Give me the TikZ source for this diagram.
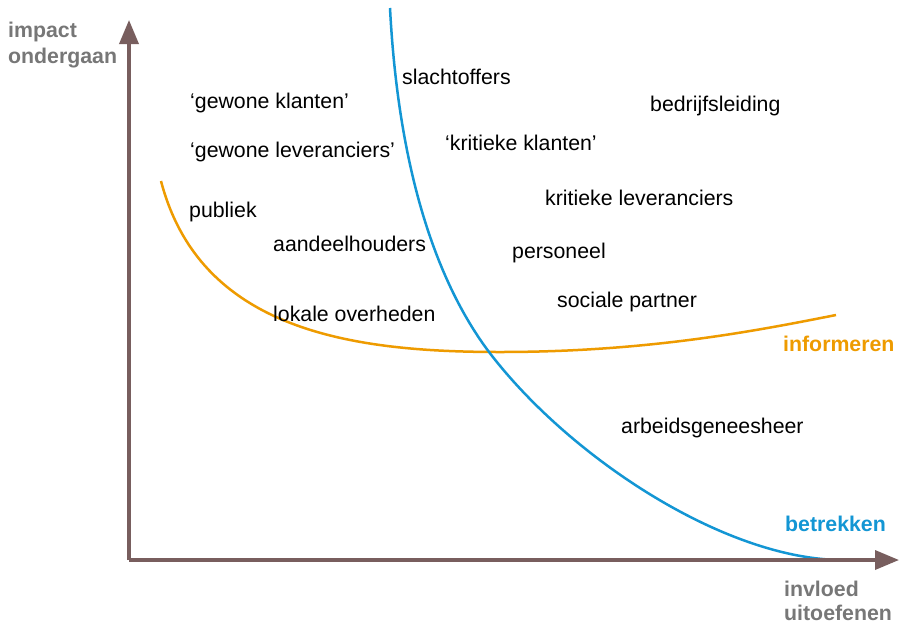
\documentclass[tikz,border=0pt]{standalone}
\usepackage{fontspec}
\setmainfont{Liberation Sans}
\usetikzlibrary{arrows.meta}
\definecolor{axisbrown}{HTML}{785E5E}
\definecolor{labelgray}{HTML}{777777}
\definecolor{infoorange}{HTML}{EE9B00}
\definecolor{involveblue}{HTML}{1396D4}
\begin{document}
\begin{tikzpicture}[x=1pt,y=-1pt,
  axisline/.style={draw=axisbrown,line width=3.5pt,-{Triangle[length=24pt,width=19pt]}},
  curve/.style={line width=2.5pt},
  party/.style={anchor=base west,inner sep=0pt,font=\fontsize{21.3}{25}\selectfont},
  axislabel/.style={anchor=base west,inner sep=0pt,text=labelgray,font=\fontsize{21.3}{25}\selectfont\bfseries,align=left},
  curvelabel/.style={anchor=base west,inner sep=0pt,font=\fontsize{21.3}{25}\selectfont\bfseries}]
\useasboundingbox (0,0) rectangle (901,624);
\fill[white] (0,0) rectangle (901,624);

% information curve
\draw[curve,infoorange] (161,181) .. controls (200,330) and (350,352) .. (500,352)
  .. controls (650,352) and (760,330) .. (836,315);
% involvement curve
\draw[curve,involveblue] (390,8) .. controls (400,200) and (450,300) .. (489,352)
  .. controls (569,457) and (725,560) .. (843,560);

% axes
\coordinate (origin) at (129,560);
\coordinate (ytip) at (129,20);
\coordinate (xtip) at (899,560);
\draw[axisline] (origin) -- (ytip);
\draw[axisline] (origin) -- (xtip);

% axis labels
\node[axislabel] (ylab1) at (8,37) {impact};
\node[axislabel] (ylab2) at (8,63) {ondergaan};
\node[axislabel] (xlab1) at (784,596) {invloed};
\node[axislabel] (xlab2) at (784,620) {uitoefenen};

% curve labels
\node[curvelabel,text=infoorange] (info) at (783,351) {informeren};
\node[curvelabel,text=involveblue] (betr) at (785,531) {betrekken};

% stakeholders
\node[party] (slacht) at (402,84) {slachtoffers};
\node[party] (gklant) at (190,108) {‘gewone klanten’};
\node[party] (bedr) at (650,111) {bedrijfsleiding};
\node[party] (kklant) at (445,150) {‘kritieke klanten’};
\node[party] (glev) at (190,157) {‘gewone leveranciers’};
\node[party] (klev) at (545,205) {kritieke leveranciers};
\node[party] (publ) at (189,217) {publiek};
\node[party] (aand) at (273,251) {aandeelhouders};
\node[party] (pers) at (512,258) {personeel};
\node[party] (soc) at (557,307) {sociale partner};
\node[party] (lok) at (273,321) {lokale overheden};
\node[party] (arb) at (621,433) {arbeidsgeneesheer};
\end{tikzpicture}
\end{document}
